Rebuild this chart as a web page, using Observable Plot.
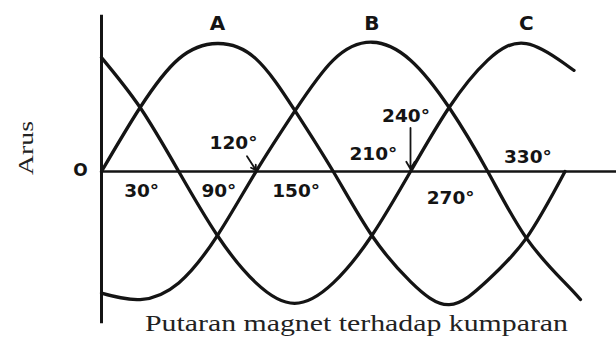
<!DOCTYPE html>
<html>
<head>
<meta charset="utf-8">
<script src="https://cdn.jsdelivr.net/npm/d3@7"></script>
<script src="https://cdn.jsdelivr.net/npm/@observablehq/plot@0.6"></script>
<style>
  html, body { margin: 0; padding: 0; background: #fff; }
  #chart svg { display: block; }
</style>
</head>
<body>
<div id="chart"></div>
<script>
// Rotation angle of the magnet (degrees) at which each phase current was read.
const anglesA = [0, 30, 60, 90, 120, 150, 180, 210, 240, 270, 300, 330, 360];
const anglesB = [0, 30, 60, 90, 120, 150, 180, 210, 240, 270, 300, 330, 360, 372];
const anglesC = [0, 30, 60, 90, 120, 150, 180, 210, 240, 270, 300, 330, 360, 367];

// Relative current in each coil (peak = 1).
const currentA = [0, 0.5, 0.88, 1.0, 0.88, 0.48, 0, -0.5, -0.86, -1.04, -0.85, -0.52, 0];
const currentB = [-0.95, -1.0, -0.87, -0.5, 0, 0.47, 0.87, 1.01, 0.87, 0.5, 0, -0.52, -0.87, -1.0];
const currentC = [0.89, 0.5, 0, -0.5, -0.87, -1.03, -0.87, -0.5, 0, 0.5, 0.87, 1.0, 0.84, 0.79];

// Phase names and the angle of each phase's positive peak.
const phaseNames = ["A", "B", "C"];
const phasePeaks = [90, 210, 330];

// Marked angles on the zero line.
const markedAngles = [30, 90, 120, 150, 210, 240, 270, 330];
const markedText = ["30°", "90°", "120°", "150°", "210°", "240°", "270°", "330°"];

const yTitle = "Arus";
const xTitle = "Putaran magnet terhadap kumparan";
const originText = "O";

// Where each angle label sits relative to its point on the zero line (px).
const labelOffset = {
  30: [0, 20], 90: [0, 20], 120: [-24, -28], 150: [0, 20],
  210: [0, -17], 240: [-6, -55], 270: [0, 27], 330: [0, -14]
};
// Leader arrows for the two labels that sit away from their point.
const pointers = [
  {angle: 120, fromAngle: 113, fromY: 0.12, toY: 0.01},
  {angle: 240, fromAngle: 240, fromY: 0.34, toY: 0.02}
];

const toRows = (angles, values, phase) => angles.map((a, i) => ({angle: a, value: values[i], phase}));
const curves = [
  ...toRows(anglesA, currentA, "A"),
  ...toRows(anglesB, currentB, "B"),
  ...toRows(anglesC, currentC, "C")
];
const marks = markedAngles.map((a, i) => ({angle: a, text: markedText[i], dx: labelOffset[a][0], dy: labelOffset[a][1]}));

const ink = "#141414";
const labelFont = "'DejaVu Sans', sans-serif";
const serifFont = "'Liberation Serif', 'Times New Roman', serif";

const plot = Plot.plot({
  width: 616,
  height: 351,
  margin: 0,
  style: {background: "#fff", overflow: "visible"},
  x: {domain: [0, 400], range: [101, 616], axis: null},
  y: {domain: [-1.406, 1.336], axis: null},
  marks: [
    // zero line and vertical axis
    Plot.ruleY([0], {x1: 0, x2: 400, stroke: ink, strokeWidth: 2.6}),
    Plot.ruleX([0], {y1: -1.19, y2: 1.22, stroke: ink, strokeWidth: 3}),
    // the three phase currents
    Plot.line(curves, {x: "angle", y: "value", z: "phase", curve: "natural", stroke: ink, strokeWidth: 3.3, strokeLinecap: "round"}),
    // leader arrows
    Plot.arrow(pointers, {x1: "fromAngle", y1: "fromY", x2: "angle", y2: "toY", stroke: ink, strokeWidth: 1.8, headLength: 7}),
    // angle labels
    ...marks.map(m => Plot.text([m], {x: "angle", y: () => 0, text: "text", dx: m.dx + 1.5, dy: m.dy,
      fontFamily: labelFont, fontWeight: "bold", fontSize: 18.5, fill: ink, letterSpacing: 3.5})),
    // phase names above the peaks
    Plot.text(phaseNames, {x: (d, i) => phasePeaks[i], y: () => 1, text: d => d, dy: -20,
      fontFamily: labelFont, fontWeight: "bold", fontSize: 20, fill: ink}),
    // origin
    Plot.text([originText], {x: () => 0, y: () => 0, text: d => d, dx: -21, dy: -1,
      fontFamily: labelFont, fontWeight: "bold", fontSize: 17, fill: ink}),
    // axis titles
    Plot.text([yTitle], {frameAnchor: "left", text: d => d, dx: 25, dy: -1, rotate: -90,
      fontFamily: serifFont, fontSize: 22, fill: "#222"}),
    Plot.text([xTitle], {frameAnchor: "bottom", text: d => d, dx: 48, dy: -21,
      fontFamily: serifFont, fontSize: 24, fill: "#222"})
  ]
});

// Widen the serif titles to their set width.
plot.querySelectorAll("text").forEach(t => {
  if (t.textContent === xTitle) { t.setAttribute("textLength", 423); t.setAttribute("lengthAdjust", "spacingAndGlyphs"); }
  if (t.textContent === yTitle) { t.setAttribute("textLength", 54); t.setAttribute("lengthAdjust", "spacingAndGlyphs"); }
});

document.getElementById("chart").appendChild(plot);
</script>
</body>
</html>
